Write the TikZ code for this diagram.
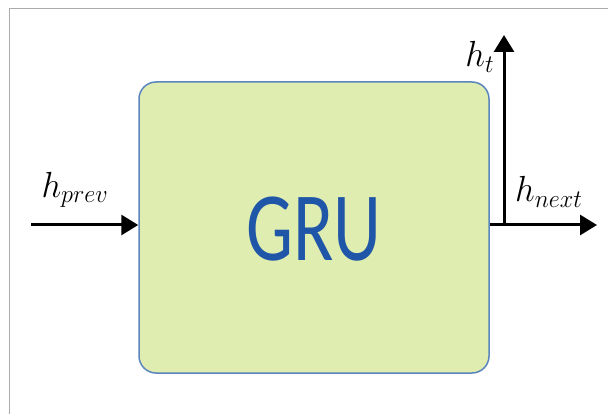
\documentclass[tikz,border=0pt]{standalone}
\usepackage{fontspec}
\newfontfamily\grufont{Carlito}
\usetikzlibrary{arrows.meta}
\definecolor{boxfill}{HTML}{E0EDB0}
\definecolor{boxline}{HTML}{5B85BD}
\definecolor{grutext}{HTML}{1F56A8}
\definecolor{frame}{HTML}{ABABAB}
\tikzset{
  flow/.style={line width=3pt,-{Triangle[length=17pt,width=20pt]}},
  lbl/.style={inner sep=0pt,xscale=1.68,yscale=1.75,font=\fontsize{20}{24}\selectfont},
}
\begin{document}
\begin{tikzpicture}[x=1pt,y=-1pt]
  \useasboundingbox[fill=white] (0,0) rectangle (608,414);
  % thin frame on the top and left
  \draw[frame,line width=1.8pt] (9.5,414) -- (9.5,8.5) -- (608,8.5);

  % the GRU cell
  \node[draw=boxline,fill=boxfill,line width=1.5pt,rounded corners=17pt,
        minimum width=350pt,minimum height=291pt,inner sep=0pt]
        (gru) at (314,227.5) {};
  \node[text=grutext,font=\grufont\fontsize{98}{104}\selectfont,inner sep=0pt,
        xscale=0.76]
        (grulabel) at (314,229) {GRU};

  % connection points
  \coordinate (inL) at (31,225);
  \coordinate (outR) at (597,225);
  \coordinate (split) at (504,225);
  \coordinate (upT) at (504,35);
  \coordinate (gruL) at (gru.west |- inL);
  \coordinate (gruR) at (gru.east |- inL);

  \draw[flow] (inL) -- (gruL);
  \draw[flow] (gruR) -- (outR);
  \draw[flow] (split) -- (upT);

  \node[lbl] (hprev) at (75,190) {$h_{prev}$};
  \node[lbl] (ht) at (480,57) {$h_t$};
  \node[lbl] (hnext) at (549,192) {$h_{next}$};
\end{tikzpicture}
\end{document}
